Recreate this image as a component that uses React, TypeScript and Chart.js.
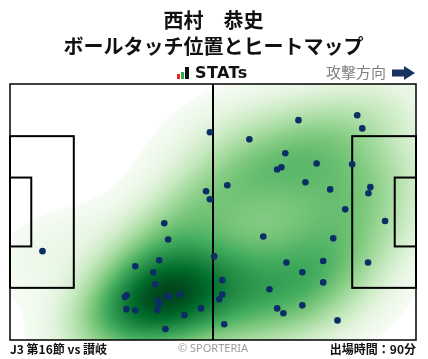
import { useEffect, useRef } from "react";
import { Chart, registerables } from "chart.js";

Chart.register(...registerables);

// ---- data ----
const playerName = "西村　恭史";
const chartTitle = "ボールタッチ位置とヒートマップ";
const brandLabel = "STATs";
const directionLabel = "攻撃方向";
const footerLeft = "J3 第16節 vs 讃岐";
const footerCenter = "© SPORTERIA";
const footerRight = "出場時間：90分";

const PITCH_LENGTH = 105;
const PITCH_WIDTH = 68;

// ball touch positions (metres from left goal line / top touch line)
const touchX = [
  51.7, 50.7, 51.7, 61.9, 74.6, 71.2, 69.1, 70.2, 79.3, 56.2, 76.4, 89.8, 91.1, 88.5,
  82.8, 93.2, 92.7, 86.7, 97.0, 8.4, 39.9, 40.9, 38.6, 32.4, 37.1, 37.6, 29.7, 30.2,
  40.6, 41.1, 44.0, 38.4, 38.6, 30.1, 32.4, 38.1, 49.4, 45.1, 40.2, 52.8, 54.9, 54.9,
  54.1, 55.4, 65.5, 83.6, 71.5, 81.0, 92.6, 75.6, 81.0, 67.1, 75.6, 69.1, 70.7, 84.7,
];
const touchY = [
  12.8, 28.5, 30.6, 14.7, 9.6, 18.4, 22.7, 22.1, 21.1, 26.9, 26.1, 8.3, 11.8, 21.3,
  28.0, 27.4, 29.0, 33.3, 36.4, 44.4, 37.0, 41.3, 46.8, 48.4, 50.0, 53.2, 56.6, 56.1,
  56.4, 56.4, 55.9, 57.6, 58.3, 59.8, 60.1, 60.0, 59.6, 61.4, 65.1, 45.8, 52.1, 55.9,
  57.2, 63.8, 40.5, 41.0, 47.4, 47.0, 47.4, 50.0, 52.7, 54.5, 58.8, 59.6, 60.9, 62.8,
];

const GREENS = [
  [0.0, [247, 252, 245]],
  [0.125, [229, 245, 224]],
  [0.25, [199, 233, 192]],
  [0.375, [161, 217, 155]],
  [0.5, [116, 196, 118]],
  [0.625, [65, 171, 93]],
  [0.75, [35, 139, 69]],
  [0.875, [0, 109, 44]],
  [1.0, [0, 68, 27]],
] as [number, number[]][];

function greens(t: number): number[] {
  t = Math.max(0, Math.min(1, t));
  for (let i = 1; i < GREENS.length; i++) {
    const [t1, c1] = GREENS[i];
    const [t0, c0] = GREENS[i - 1];
    if (t <= t1) {
      const f = (t - t0) / (t1 - t0);
      return [0, 1, 2].map((k) => c0[k] + (c1[k] - c0[k]) * f);
    }
  }
  return GREENS[GREENS.length - 1][1];
}

const THRESH = 0.035;
const GAMMA = 0.75;
const BW_ADJUST = 1.1;

const heatmapPlugin = {
  id: "heatmap",
  beforeDatasetsDraw(chart: any) {
    const { ctx, chartArea, scales } = chart;
    const { left, top, right, bottom } = chartArea;
    const w = Math.round(right - left);
    const h = Math.round(bottom - top);
    const n = touchX.length;
    const mx = touchX.reduce((a, b) => a + b, 0) / n;
    const my = touchY.reduce((a, b) => a + b, 0) / n;
    let sxx = 0, syy = 0, sxy = 0;
    for (let i = 0; i < n; i++) {
      sxx += (touchX[i] - mx) ** 2;
      syy += (touchY[i] - my) ** 2;
      sxy += (touchX[i] - mx) * (touchY[i] - my);
    }
    sxx /= n - 1; syy /= n - 1; sxy /= n - 1;
    const f2 = Math.pow(n, -1 / 3) * BW_ADJUST * BW_ADJUST;
    const a = sxx * f2, d = syy * f2, b = sxy * f2;
    const det = a * d - b * b;
    const ia = d / det, id = a / det, ib = -b / det;
    const N = w * h;
    const dens = new Float64Array(N);
    let maxD = 0;
    for (let py = 0; py < h; py++) {
      const vy = scales.y.getValueForPixel(top + py + 0.5);
      for (let px = 0; px < w; px++) {
        const vx = scales.x.getValueForPixel(left + px + 0.5);
        let s = 0;
        for (let i = 0; i < n; i++) {
          const dx = vx - touchX[i];
          const dy = vy - touchY[i];
          s += Math.exp(-0.5 * (ia * dx * dx + 2 * ib * dx * dy + id * dy * dy));
        }
        dens[py * w + px] = s;
        if (s > maxD) maxD = s;
      }
    }
    const t0 = Math.pow(THRESH, GAMMA);
    const off = document.createElement("canvas");
    off.width = w; off.height = h;
    const octx = off.getContext("2d")!;
    const img = octx.createImageData(w, h);
    for (let i = 0; i < N; i++) {
      const r = dens[i] / maxD;
      if (r < THRESH) { img.data[i * 4 + 3] = 0; continue; }
      const c = greens((Math.pow(r, GAMMA) - t0) / (1 - t0));
      img.data[i * 4] = c[0];
      img.data[i * 4 + 1] = c[1];
      img.data[i * 4 + 2] = c[2];
      img.data[i * 4 + 3] = 255;
    }
    octx.putImageData(img, 0, 0);
    ctx.save();
    ctx.drawImage(off, left, top);
    ctx.restore();

    // pitch markings
    const X = (v: number) => scales.x.getPixelForValue(v);
    const Y = (v: number) => scales.y.getPixelForValue(v);
    ctx.save();
    ctx.strokeStyle = "#000";
    ctx.lineWidth = 2;
    const rect = (x0: number, y0: number, x1: number, y1: number) => {
      ctx.strokeRect(X(x0), Y(y0), X(x1) - X(x0), Y(y1) - Y(y0));
    };
    const pbY0 = PITCH_WIDTH / 2 - 20.15, pbY1 = PITCH_WIDTH / 2 + 20.15;
    const gaY0 = PITCH_WIDTH / 2 - 9.15, gaY1 = PITCH_WIDTH / 2 + 9.15;
    rect(0, pbY0, 16.5, pbY1);
    rect(0, gaY0, 5.5, gaY1);
    rect(PITCH_LENGTH - 16.5, pbY0, PITCH_LENGTH, pbY1);
    rect(PITCH_LENGTH - 5.5, gaY0, PITCH_LENGTH, gaY1);
    ctx.beginPath();
    ctx.moveTo(X(PITCH_LENGTH / 2), Y(0));
    ctx.lineTo(X(PITCH_LENGTH / 2), Y(PITCH_WIDTH));
    ctx.stroke();
    ctx.lineWidth = 1.5;
    rect(0, 0, PITCH_LENGTH, PITCH_WIDTH);
    ctx.restore();
  },
};

const decorPlugin = {
  id: "decor",
  afterDraw(chart: any) {
    const { ctx } = chart;
    ctx.save();
    ctx.fillStyle = "#111";
    ctx.textAlign = "center";
    ctx.textBaseline = "middle";
    ctx.font = "bold 20px 'Noto Sans CJK JP'";
    ctx.fillText(playerName, 213.5, 20.5);
    ctx.fillText(chartTitle, 213.5, 46.5);

    // brand logo
    ctx.fillStyle = "#e8262c";
    ctx.fillRect(177, 74, 3, 5);
    ctx.fillStyle = "#2fa84f";
    ctx.fillRect(181, 72, 3, 7);
    ctx.fillStyle = "#111";
    ctx.fillRect(185, 67, 4, 12);
    ctx.textAlign = "left";
    ctx.font = "bold 16px 'DejaVu Sans'";
    (ctx as any).letterSpacing = "0.4px";
    ctx.fillText(brandLabel, 195, 73.5);
    (ctx as any).letterSpacing = "0px";

    // direction
    ctx.fillStyle = "#7f7f7f";
    ctx.font = "15px 'Noto Sans CJK JP'";
    ctx.fillText(directionLabel, 326, 72.5);
    ctx.fillStyle = "#17335f";
    ctx.beginPath();
    ctx.moveTo(392, 69.5);
    ctx.lineTo(404, 69.5);
    ctx.lineTo(404, 66);
    ctx.lineTo(415, 73);
    ctx.lineTo(404, 80);
    ctx.lineTo(404, 76.5);
    ctx.lineTo(392, 76.5);
    ctx.closePath();
    ctx.fill();

    // footer
    ctx.fillStyle = "#111";
    ctx.font = "bold 12px 'Noto Sans CJK JP'";
    ctx.textAlign = "left";
    ctx.fillText(footerLeft, 10, 349);
    ctx.textAlign = "right";
    ctx.fillText(footerRight, 416, 349);
    ctx.fillStyle = "#9a9a9a";
    ctx.textAlign = "center";
    ctx.font = "11px 'Noto Sans'";
    ctx.fillText(footerCenter, 213, 348.5);
    ctx.restore();
  },
};

export default function App() {
  const ref = useRef<HTMLCanvasElement | null>(null);
  useEffect(() => {
    document.body.style.margin = "0";
    const canvas = ref.current!;
    const chart = new Chart(canvas, {
      type: "scatter",
      data: {
        datasets: [
          {
            data: touchX.map((x, i) => ({ x, y: touchY[i] })),
            backgroundColor: "#0b2e66",
            borderWidth: 0,
            pointRadius: 3.3,
          },
        ],
      },
      options: {
        animation: false,
        responsive: false,
        events: [],
        layout: { padding: { left: 10, right: 12, top: 84, bottom: 19 } },
        scales: {
          x: { type: "linear", min: 0, max: PITCH_LENGTH, display: false },
          y: { type: "linear", min: 0, max: PITCH_WIDTH, reverse: true, display: false },
        },
        plugins: { legend: { display: false }, tooltip: { enabled: false }, title: { display: false } },
      },
      plugins: [heatmapPlugin, decorPlugin],
    });
    return () => chart.destroy();
  }, []);
  return (
    <div style={{ position: "fixed", left: 0, top: 0, width: 428, height: 359, background: "#fff" }}>
      <canvas ref={ref} width={428} height={359} style={{ width: 428, height: 359 }} />
    </div>
  );
}
